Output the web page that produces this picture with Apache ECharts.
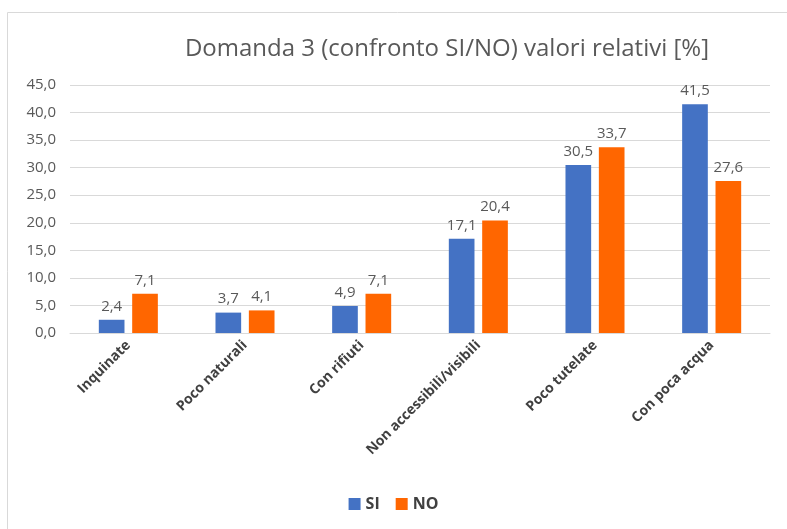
<!DOCTYPE html>
<html><head><meta charset="utf-8">
<script src="https://cdn.jsdelivr.net/npm/echarts@6/dist/echarts.min.js"></script>
<style>html,body{margin:0;padding:0;background:#fff}#c{width:787px;height:529px}</style>
</head><body><div id="c"></div>
<script>
const categories = ['Inquinate','Poco naturali','Con rifiuti','Non accessibili/visibili','Poco tutelate','Con poca acqua'];
const siValues = [2.4, 3.7, 4.9, 17.1, 30.5, 41.5];
const noValues = [7.1, 4.1, 7.1, 20.4, 33.7, 27.6];
const yTicks = {min: 0, max: 45, interval: 5};
const fmt = v => v.toFixed(1).replace('.', ',');
const font = '"Open Sans", "Noto Sans", sans-serif';
const chart = echarts.init(document.getElementById('c'));
const lbl = {show: true, position: 'top', distance: 6, color: '#595959', fontSize: 15, fontFamily: font, formatter: p => fmt(p.value)};
chart.setOption({
  animation: false,
  textStyle: {fontFamily: font},
  graphic: [{type: 'rect', shape: {x: 7.5, y: 12.5, width: 800, height: 600}, style: {fill: 'none', stroke: '#d9d9d9', lineWidth: 1}, silent: true}],
  title: {text: 'Domanda 3 (confronto SI/NO) valori relativi [%]', left: 442, textAlign: 'center', top: 32,
    textStyle: {fontSize: 24, fontWeight: 'normal', color: '#595959', fontFamily: font}},
  legend: {bottom: 12, left: 'center', itemWidth: 12, itemHeight: 12, itemGap: 16, icon: 'rect',
    textStyle: {fontSize: 16, fontWeight: 'bold', color: '#404040', fontFamily: font}},
  grid: {left: 70, right: 17, top: 85, bottom: 196},
  xAxis: {type: 'category', data: categories,
    axisLine: {lineStyle: {color: '#d9d9d9', width: 1}}, axisTick: {show: false},
    axisLabel: {rotate: 45, interval: 0, fontSize: 14, fontWeight: 'bold', color: '#404040', margin: 10, fontFamily: font}},
  yAxis: {type: 'value', min: yTicks.min, max: yTicks.max, interval: yTicks.interval,
    axisLine: {show: false}, axisTick: {show: false},
    splitLine: {lineStyle: {color: '#d9d9d9', width: 1}},
    axisLabel: {fontSize: 15, color: '#595959', formatter: v => fmt(v), margin: 14, fontFamily: font}},
  series: [
    {name: 'SI', type: 'bar', data: siValues, itemStyle: {color: '#4472C4'}, barWidth: '22%', barGap: '30%', label: lbl},
    {name: 'NO', type: 'bar', data: noValues, itemStyle: {color: '#FF6600'}, barWidth: '22%', label: lbl}
  ]
});
</script></body></html>
